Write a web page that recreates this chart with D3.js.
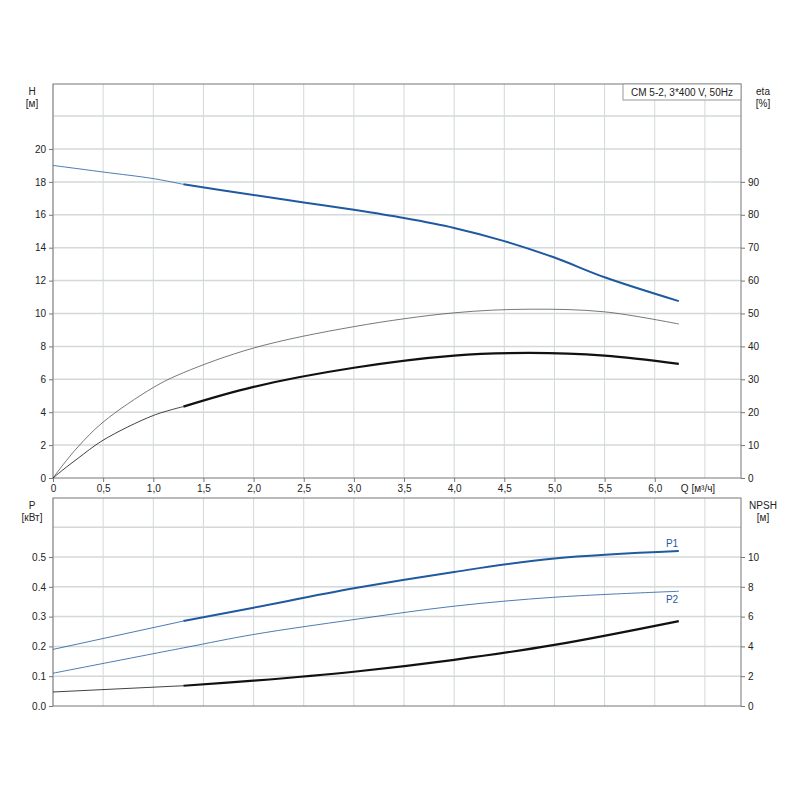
<!DOCTYPE html><html><head><meta charset="utf-8"><script src="https://cdn.jsdelivr.net/npm/d3@7"></script>
<style>body{margin:0;background:#fff}text{font-family:"Liberation Sans",Arial,sans-serif;font-size:10px;fill:#222}</style></head><body><svg id="c" width="800" height="800"></svg><script>
const qTicks=[0,0.5,1,1.5,2,2.5,3,3.5,4,4.5,5,5.5,6];
const hTicks=[0,2,4,6,8,10,12,14,16,18,20];
const etaTicks=[0,10,20,30,40,50,60,70,80,90];
const pTicks=[0,0.1,0.2,0.3,0.4,0.5];
const npshTicks=[0,2,4,6,8,10];
const hQ=[0,0.5,1,1.3,2,2.5,3,3.5,4,4.5,5,5.5,6.24];
const hV=[19,18.6,18.2,17.85,17.2,16.75,16.3,15.8,15.2,14.4,13.4,12.2,10.75];
const eQ=[0,0.1,0.25,0.5,1,1.3,2,3,4,4.75,5.5,6.24];
const eta1=[0,4,9.5,17,27.5,32,39.5,46,50.2,51.3,50.5,46.8];
const eta2=[0,2.5,6,11.5,19,21.7,27.7,33.5,37.2,38,37.2,34.7];
const pQ=[0,1.3,2,3,4,5,6.24];
const p1=[0.19,0.285,0.33,0.395,0.45,0.495,0.52];
const p2=[0.11,0.195,0.24,0.29,0.335,0.365,0.385];
const npsh=[0.94,1.36,1.7,2.3,3.1,4.1,5.7];
const svg=d3.select("#c");
const L=53,R=741;
const x=d3.scaleLinear([0,6.86],[L,R]);
const yH=d3.scaleLinear([0,23.95],[478,84]);
const yE=d3.scaleLinear([0,119.75],[478,84]);
const yP=d3.scaleLinear([0,0.698],[706,498]);
const yN=d3.scaleLinear([0,13.96],[706,498]);
const grid="#d4d8d8";
function panel(y,top,bot,hg){
  qTicks.concat([6.5]).forEach(q=>svg.append("line").attr("x1",x(q)).attr("x2",x(q)).attr("y1",top).attr("y2",bot).attr("stroke",grid));
  hg.forEach(v=>svg.append("line").attr("x1",L).attr("x2",R).attr("y1",y(v)).attr("y2",y(v)).attr("stroke",grid).attr("stroke-width",1.5));
  svg.append("rect").attr("x",L).attr("y",top).attr("width",R-L).attr("height",bot-top).attr("fill","none").attr("stroke","#777");
}
panel(yH,84,478,d3.range(2,23,2));
panel(yP,498,706,[0.1,0.2,0.3,0.4,0.5,0.6]);
svg.append("g").attr("transform","translate(53,0)").call(d3.axisLeft(yH).tickValues(hTicks).tickSize(4)).call(g=>g.select(".domain").remove());
svg.append("g").attr("transform","translate(741,0)").call(d3.axisRight(yE).tickValues(etaTicks).tickSize(4)).call(g=>g.select(".domain").remove());
svg.append("g").attr("transform","translate(0,478)").call(d3.axisBottom(x).tickValues(qTicks).tickSize(4).tickFormat(d=>d3.format(".1f")(d).replace(".",",").replace(/^0,0$/,"0"))).call(g=>g.select(".domain").remove());
svg.append("g").attr("transform","translate(53,0)").call(d3.axisLeft(yP).tickValues(pTicks).tickSize(4).tickFormat(d3.format(".1f"))).call(g=>g.select(".domain").remove());
svg.append("g").attr("transform","translate(741,0)").call(d3.axisRight(yN).tickValues(npshTicks).tickSize(4)).call(g=>g.select(".domain").remove());
svg.selectAll(".tick line").attr("stroke","#777");
const t=(s,xx,yy,a)=>svg.append("text").attr("x",xx).attr("y",yy).attr("text-anchor",a||"middle").text(s);
t("H",32,95);t("[м]",32,107);t("eta",763,95);t("[%]",763,107);
t("P",32,509);t("[кВт]",32,521);t("NPSH",763,509);t("[м]",763,521);
t("Q [м³/ч]",698,492);
svg.append("rect").attr("x",623).attr("y",84).attr("width",118).attr("height",16).attr("fill","#fff").attr("stroke","#999");
t("CM 5-2, 3*400 V, 50Hz",682,96);
function curve(xs,ys,y,col,w,split){
  const pts=xs.map((q,i)=>[x(q),y(ys[i])]);
  const ln=d3.line().curve(d3.curveCatmullRom);
  const thin=pts.filter((p,i)=>xs[i]<=split), thick=pts.filter((p,i)=>xs[i]>=split);
  svg.append("path").attr("d",ln(thin.length>1?thin:pts)).attr("fill","none").attr("stroke",col).attr("stroke-width",0.8);
  if(split<6&&thick.length>1) svg.append("path").attr("d",ln(thick)).attr("fill","none").attr("stroke",col).attr("stroke-width",w);
}
curve(hQ,hV,yH,"#1f5aa0",2,1.3);
curve(eQ,eta1,yE,"#555",1.5,9);
curve(eQ,eta2,yE,"#111",2.2,1.3);
curve(pQ,p1,yP,"#1f5aa0",2,1.3);
curve(pQ,p2,yP,"#1f5aa0",1,9);
curve(pQ,npsh,yN,"#111",2.2,1.3);
svg.append("text").attr("x",672).attr("y",547).style("fill","#1f5aa0").attr("text-anchor","middle").text("P1");
svg.append("text").attr("x",672).attr("y",603).style("fill","#1f5aa0").attr("text-anchor","middle").text("P2");
</script></body></html>
